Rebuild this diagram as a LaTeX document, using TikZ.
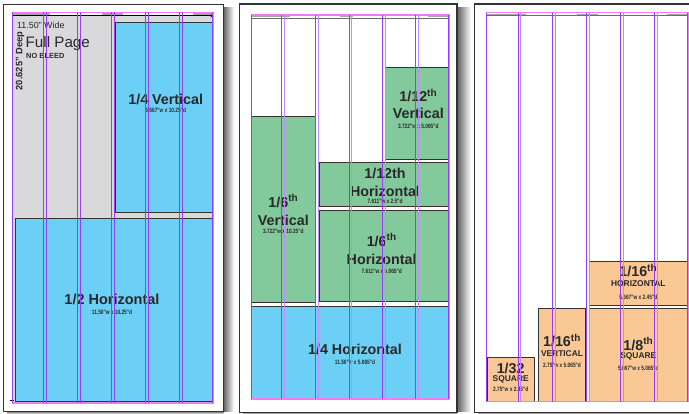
\documentclass[tikz,border=0pt]{standalone}
\usepackage{fontspec}
\usetikzlibrary{arrows.meta}
\setmainfont{Liberation Sans}
\newfontfamily\condfont[FakeStretch=0.76]{Liberation Sans}
\newcommand\fsz[1]{\fontsize{#1}{#1}\selectfont}
\definecolor{adblue}{HTML}{6CCFF5}
\definecolor{adgreen}{HTML}{82C99C}
\definecolor{adorange}{HTML}{F9C894}
\definecolor{pagegray}{HTML}{D9D9DB}
\definecolor{txt}{HTML}{2A2829}
\definecolor{margin}{HTML}{F07CF5}
\definecolor{gdark}{HTML}{9A3CF5}
\definecolor{glight}{HTML}{C189FF}
\definecolor{edge}{HTML}{333333}
\tikzset{
  panel/.style={draw=edge, line width=1.1pt, fill=white},
  adbox/.style={draw=edge, line width=0.9pt},
  marginbox/.style={draw=margin, line width=1.4pt},
  gA/.style={draw=gdark, line width=1pt},
  gB/.style={draw=glight, line width=1pt},
  hdr/.style={fill=gray!70, draw=none},
  big/.style={font=\bfseries\fsz{14.3}, text=txt, inner sep=0pt},
  sub/.style={font=\bfseries\fsz{8.4}, text=txt, inner sep=0pt},
  dim/.style={font=\condfont\bfseries\fsz{6.3}, text=txt, inner sep=0pt},
}
\begin{document}
\begin{tikzpicture}[x=1pt,y=-1pt]
\useasboundingbox (0,0) rectangle (689,414);
% shadows
\shade[left color=black!60, right color=white] (223.8,8) rectangle (234,412);
\shade[left color=black!60, right color=white] (457.5,8) rectangle (471,412);
\shade[top color=black!45, bottom color=white] (7,412) rectangle (224,414);
\shade[top color=black!45, bottom color=white] (243,412.8) rectangle (457,414);
\shade[top color=black!45, bottom color=white] (478,412.8) rectangle (689,414);
% panels
\draw[panel] (3.3,4.3) rectangle (223.3,411.7);
\draw[panel] (239.3,4) rectangle (457,412.7);
\draw[panel] (474.5,4) rectangle (692,412.7);

%% ===== Panel 1 =====
\fill[pagegray] (12.3,16.2) rectangle (213.3,403);
\draw[adbox, fill=adblue] (115,22) rectangle (213.3,212);
\draw[adbox, fill=adblue] (15.3,218) rectangle (213.3,401);
\fill[hdr] (13,13.3) rectangle (50,14.6);
\fill[hdr] (101.7,13.3) rectangle (123.3,14.6);
\fill[hdr] (192.7,13.3) rectangle (212.5,14.6);
\draw[black, line width=0.8pt, -{Stealth[length=3pt,width=3pt]}] (12.3,15.9) -- (213.3,15.9);
\draw[black, line width=0.6pt] (10,400.5) -- (14,400.5);
\node[anchor=west, font=\fsz{8.9}, text=txt, inner sep=0pt] (wide) at (17,25) {11.50" Wide};
\node[anchor=west, font=\fsz{15.2}, text=txt, inner sep=0pt] (full) at (25.5,44) {Full Page};
\node[anchor=west, font=\bfseries\fsz{7.4}, text=txt, inner sep=0pt] (nobleed) at (26,55.5) {NO BLEED};
\node[rotate=90, font=\bfseries\fsz{9.3}, text=txt, inner sep=0pt] (deep) at (20,61) {20.625" Deep};
\node[big] (qv) at (165.7,99) {1/4 Vertical};
\node[dim] (qvd) at (165.7,110.5) {5.667"w x 10.25"d};
\node[big, font=\bfseries\fsz{14.5}] (hh) at (112,299) {1/2 Horizontal};
\node[dim] (hhd) at (112,312) {11.50"w x 10.25"d};
\draw[marginbox] (12.3,12.3) rectangle (213.3,403);
\foreach \a/\b in {43.3/46.3, 77.7/80.5, 111.7/114.7, 145.7/148.7, 179.7/182.7}{
  \draw[gA] (\a,12.3) -- (\a,403);
  \draw[gA] (\b,12.3) -- (\b,403);
}
\draw[gA] (12.9,12.3) -- (12.9,403);
\draw[gA] (212.7,12.3) -- (212.7,403);

%% ===== Panel 2 =====
\fill[hdr] (251.5,16) rectangle (290,17.2);
\fill[hdr] (340,16) rectangle (352.7,17.2);
\fill[hdr] (428,16) rectangle (448.5,17.2);
\draw[gray!85!black, line width=1.3pt] (251.3,18.4) -- (449,18.4);
\draw[adbox, fill=adgreen] (385.7,67.7) rectangle (448.7,159);
\draw[adbox, fill=adgreen] (251.7,116) rectangle (315.3,302.3);
\draw[adbox, fill=adgreen] (319,162.3) rectangle (448.7,206.7);
\draw[adbox, fill=adgreen] (319,210) rectangle (448.7,301.7);
\draw[adbox, fill=adblue] (251.7,306) rectangle (449,398.3);
\node[big] (tv) at (418.3,95.7) {1/12\textsuperscript{th}};
\node[big] (tv2) at (418.3,113.3) {Vertical};
\node[dim] (tvd) at (418.3,126) {3.722"w x 5.065"d};
\node[big] (th) at (385,173.3) {1/12th};
\node[big] (th2) at (385,191) {Horizontal};
\node[dim] (thd) at (385,201.7) {7.611"w x 2.5"d};
\node[big] (sv) at (283.3,201) {1/6\textsuperscript{th}};
\node[big] (sv2) at (283.3,220) {Vertical};
\node[dim] (svd) at (283.3,231) {3.722"w x 10.25"d};
\node[big] (sh) at (381.7,240) {1/6\textsuperscript{th}};
\node[big] (sh2) at (381.7,259.3) {Horizontal};
\node[dim] (shd) at (381.7,271.7) {7.611"w x 5.065"d};
\node[big] (qh) at (355,349) {1/4 Horizontal};
\node[dim] (qhd) at (355,362.3) {11.50"w x 5.065"d};
\draw[marginbox] (251.3,15) rectangle (449.3,399);
\foreach \a/\b in {281.7/284.3, 315.7/318.3, 349/351.7, 382.7/385.3, 415.7/418.7}{
  \draw[gA] (\a,15) -- (\a,399);
  \draw[gB] (\b,15) -- (\b,399);
}
\draw[gA] (251.8,15) -- (251.8,399);
\draw[gA] (448.8,15) -- (448.8,399);

%% ===== Panel 3 =====
\fill[hdr] (487.3,13.6) rectangle (525.7,14.8);
\fill[hdr] (577.3,13.6) rectangle (598.3,14.8);
\fill[hdr] (666.7,13.6) rectangle (687.5,14.8);
\draw[gray!85!black, line width=1.1pt] (486.3,15.8) -- (688.3,15.8);
\draw[adbox, fill=adorange] (487,357.3) rectangle (534.3,401.7);
\draw[adbox, fill=adorange] (538.3,308.3) rectangle (585.7,401.7);
\draw[adbox, fill=adorange] (589.3,308.3) rectangle (687.7,401.7);
\draw[adbox, fill=adorange] (589.3,261) rectangle (687.7,305.3);
\node[big] (a) at (510.7,368.3) {1/32};
\node[sub] (a2) at (510.7,379.3) {SQUARE};
\node[dim] (ad) at (510.7,389) {2.75"w x 2.45"d};
\node[big] (b) at (562,340.7) {1/16\textsuperscript{th}};
\node[sub] (b2) at (562,353.3) {VERTICAL};
\node[dim] (bd) at (562,365.3) {2.75"w x 5.065"d};
\node[big] (c) at (638.3,344) {1/8\textsuperscript{th}};
\node[sub] (c2) at (638.3,356.7) {SQUARE};
\node[dim] (cd) at (638.3,368.3) {5.667"w x 5.065"d};
\node[big] (d) at (638.3,270.7) {1/16\textsuperscript{th}};
\node[sub] (d2) at (638.3,284) {HORIZONTAL};
\node[dim] (dd) at (638.3,297.7) {5.667"w x 2.45"d};
\draw[marginbox] (486.3,12.7) rectangle (688.3,401.7);
\foreach \a/\b in {518/520.7, 552.3/555, 586.3/589, 620.3/623, 654.3/657}{
  \draw[gA] (\a,12.7) -- (\a,401.7);
  \draw[gB] (\b,12.7) -- (\b,401.7);
}
\draw[gA] (486.8,12.7) -- (486.8,401.7);
\draw[gA] (687.8,12.7) -- (687.8,401.7);
\end{tikzpicture}
\end{document}
